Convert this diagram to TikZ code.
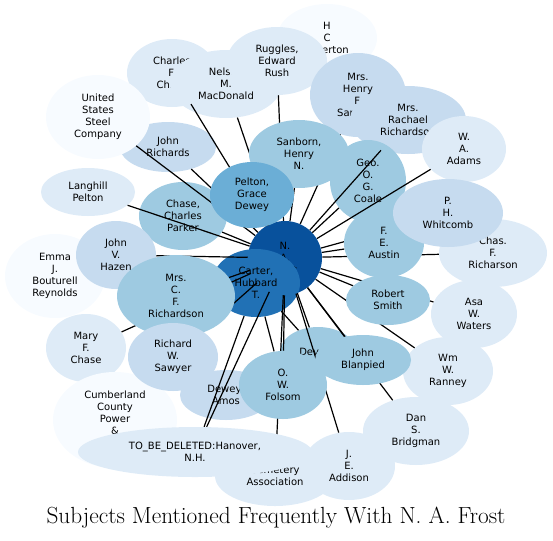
\documentclass[tikz,border=0pt]{standalone}
\usepackage{fontspec}
\newfontfamily\bubfont{DejaVu Sans}
\usetikzlibrary{shapes.geometric}

\pgfdeclarelayer{back}
\pgfdeclarelayer{front}
\pgfsetlayers{back,main,front}

\definecolor{b0}{HTML}{F7FBFF}
\definecolor{b1}{HTML}{DEEBF7}
\definecolor{b2}{HTML}{C6DBEF}
\definecolor{b3}{HTML}{9ECAE1}
\definecolor{b4}{HTML}{6BAED6}
\definecolor{b5}{HTML}{2171B5}
\definecolor{b6}{HTML}{08519C}

\begin{document}
\begin{tikzpicture}[x=0.75pt, y=-0.75pt,
    every node/.style={font=\bubfont\fontsize{7.5}{9}\selectfont},
    bub/.style={ellipse, inner sep=0pt, align=center},
    sz/.style 2 args={minimum width=#1*1.5pt, minimum height=#2*1.5pt},
    link/.style={line width=0.9pt, black}]
    \useasboundingbox (0,0) rectangle (553,540);

    % Bubbles lying under the links
    \begin{pgfonlayer}{back}
    \node[bub, fill=b0, sz={50}{34}] (atherton) at (327,38) {H\\C\\Atherton};
    \node[bub, fill=b1, sz={45}{34}] (charles) at (172,73) {Charles\\F.\\Chase};
    \node[bub, fill=b1, sz={56}{34}] (nelson) at (226,84) {Nelson\\M.\\MacDonald};
    \node[bub, fill=b1, sz={50}{34}] (ruggles) at (277,61) {Ruggles,\\Edward\\Rush};
    \node[bub, fill=b2, sz={48}{25}] (richards) at (168,147) {John\\Richards};
    \node[bub, fill=b0, sz={52}{42}] (steel) at (98,117) {United\\States\\Steel\\Company};
    \node[bub, fill=b2, sz={48}{42}] (henryf) at (358,95) {Mrs.\\Henry\\F.\\Sanborn};
    \node[bub, fill=b2, sz={58}{34}] (rachael) at (408,120) {Mrs.\\Rachael\\Richardson};
    \node[bub, fill=b1, sz={42}{33}] (adams) at (464,149) {W.\\A.\\Adams};
    \node[bub, fill=b3, sz={38}{41}] (coale) at (368,181) {Geo.\\O.\\G.\\Coale};
    \node[bub, fill=b1, sz={47}{24}] (langhill) at (88,192) {Langhill\\Pelton};
    \node[bub, fill=b3, sz={44}{34}] (chase) at (183,216) {Chase,\\Charles\\Parker};
    \node[bub, fill=b1, sz={54}{34}] (richarson) at (493,253) {Chas.\\F.\\Richarson};
    \node[bub, fill=b6, sz={37}{37}] (frost) at (285,258) {N.\\A.\\Frost};
    \node[bub, fill=b5, sz={44}{34}] (carter) at (256,283) {Carter,\\Hubbard\\T.};
    \node[bub, fill=b0, sz={50}{42}] (emma) at (55,276) {Emma\\J.\\Bouturell\\Reynolds};
    \node[bub, fill=b2, sz={40}{34}] (hazen) at (116,255) {John\\V.\\Hazen};
    \node[bub, fill=b1, sz={43}{34}] (waters) at (474,314) {Asa\\W.\\Waters};
    \node[bub, fill=b1, sz={40}{34}] (mary) at (86,348) {Mary\\F.\\Chase};
    \node[bub, fill=b2, sz={46}{25}] (amos) at (226,395) {Dewey,\\Amos};
    \node[bub, fill=b3, sz={38}{25}] (dev) at (318,352) {Devens};
    \node[bub, fill=b1, sz={45}{34}] (ranney) at (448,371) {Wm\\W.\\Ranney};
    \node[bub, fill=b0, sz={62}{48}] (cumberland) at (115,420) {Cumberland\\County\\Power\\\&\\Light};
    \node[bub, fill=b1, sz={60}{30}] (cemetery) at (275,476) {Cemetery\\Association};
    \node[bub, fill=b1, sz={46}{34}] (addison) at (349,466) {J.\\E.\\Addison};
    \node[bub, fill=b1, sz={53}{34}] (bridgman) at (416,431) {Dan\\S.\\Bridgman};
    \end{pgfonlayer}

    % Bubbles lying over the links
    \begin{pgfonlayer}{front}
    \node[bub, fill=b3, sz={50}{34}] (sanborn) at (299,154) {Sanborn,\\Henry\\N.};
    \node[bub, fill=b4, sz={42}{33}] (pelton) at (252,195) {Pelton,\\Grace\\Dewey};
    \node[bub, fill=b3, sz={40}{35}] (austin) at (384,243) {F.\\E.\\Austin};
    \node[bub, fill=b2, sz={55}{34}] (whitcomb) at (448,213) {P.\\H.\\Whitcomb};
    \node[bub, fill=b3, sz={59}{41}] (mrscf) at (176,296) {Mrs.\\C.\\F.\\Richardson};
    \node[bub, fill=b2, sz={45}{34}] (sawyer) at (173,357) {Richard\\W.\\Sawyer};
    \node[bub, fill=b3, sz={42}{25}] (smith) at (388,300) {Robert\\Smith};
    \node[bub, fill=b3, sz={48}{25}] (blanpied) at (363,360) {John\\Blanpied};
    \node[bub, fill=b3, sz={44}{34}] (folsom) at (283,385) {O.\\W.\\Folsom};
    \node[bub, fill=b1, sz={117}{25}] (tbd) at (195,452) {TO\_BE\_DELETED:Hanover,\\N.H.};
    \end{pgfonlayer}

    % Links from N. A. Frost
    \draw[link] (frost) -- (ruggles);
    \draw[link] (frost) -- (nelson);
    \draw[link] (frost) -- (charles);
    \draw[link] (frost) -- (steel);
    \draw[link] (frost) -- (richards);
    \draw[link] (frost) -- (sanborn);
    \draw[link] (frost) -- (henryf);
    \draw[link] (frost) -- (rachael);
    \draw[link] (frost) -- (adams);
    \draw[link] (frost) -- (coale);
    \draw[link] (frost) -- (pelton);
    \draw[link] (frost) -- (langhill);
    \draw[link] (frost) -- (chase);
    \draw[link] (frost) -- (whitcomb);
    \draw[link] (frost) -- (austin);
    \draw[link] (frost) -- (richarson);
    \draw[link] (frost) -- (hazen);
    \draw[link] (frost) -- (mrscf);
    \draw[link] (frost) -- (smith);
    \draw[link] (frost) -- (waters);
    \draw[link] (frost) -- (mary);
    \draw[link] (frost) -- (sawyer);
    \draw[link] (frost) -- (dev);
    \draw[link] (frost) -- (blanpied);
    \draw[link] (frost) -- (folsom);
    \draw[link] (frost) -- (ranney);
    \draw[link] (frost) -- (bridgman);
    \draw[link] (frost) -- (tbd);
    \draw[link] (frost) -- (cemetery);
    \draw[link] (frost) -- (addison);

    % Links from Carter
    \draw[link] (carter) -- (hazen);
    \draw[link] (carter) -- (sawyer);
    \draw[link] (carter) -- (tbd);
    \draw[link] (carter) -- (folsom);
    \draw[link] (carter) -- (dev);

    % Title
    \node[font=\rmfamily\fontsize{17.5}{20}\selectfont] (title) at (276,518) {Subjects Mentioned Frequently With N. A. Frost};
\end{tikzpicture}
\end{document}
